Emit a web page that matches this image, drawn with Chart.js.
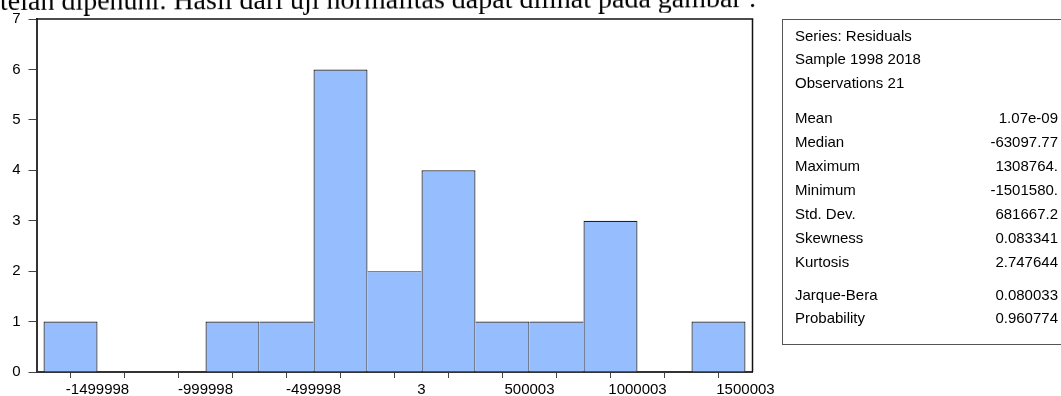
<!DOCTYPE html>
<html>
<head>
<meta charset="utf-8">
<script src="https://cdn.jsdelivr.net/npm/chart.js@4.4.1/dist/chart.umd.min.js"></script>
<style>
  html, body { margin: 0; padding: 0; background: #fff; overflow: hidden; width: 1061px; height: 396px; }
  #stage { position: absolute; left: 0; top: 0; width: 1061px; height: 396px; }
  #hist { position: absolute; left: 0; top: 0; }
  #lead { position: absolute; left: 0; top: -13.4px; white-space: nowrap; color: #000;
          font-family: "Times New Roman", "Liberation Serif", serif; font-size: 28px; line-height: 28px;
          transform: rotate(-0.22deg); transform-origin: 0 100%; }
  #stats { position: absolute; left: 782px; top: 19px; width: 300px; height: 326px; box-sizing: border-box;
           border: 1px solid #555; color: #000; font-family: Arial, "Liberation Sans", sans-serif; font-size: 15px; }
  #stats .row { position: absolute; left: 0; width: 275px; height: 18px; line-height: 18px; white-space: nowrap; }
  #stats .name { position: absolute; left: 12px; }
  #stats .val { position: absolute; right: 0; text-align: right; }
</style>
</head>
<body>
<div id="stage">
  <canvas id="hist" width="1061" height="396"></canvas>
  <div id="lead">telah dipenuhi. Hasil dari uji normalitas dapat dilihat pada gambar :</div>
  <div id="stats"></div>
</div>
<script>
// Histogram of residuals: bin edges, counts per bin, and the labelled edges
const binEdges = [-1749997.5, -1499997.5, -1249997.5, -999997.5, -749997.5, -499997.5, -249997.5,
                  2.5, 250002.5, 500002.5, 750002.5, 1000002.5, 1250002.5, 1500002.5];
const binCounts = [1, 0, 0, 1, 1, 6, 2, 4, 1, 1, 3, 0, 1];
const xTickLabels = ['-1499998', '-999998', '-499998', '3', '500003', '1000003', '1500003'];
const yTicks = [0, 1, 2, 3, 4, 5, 6, 7];

// Descriptive statistics panel
const seriesInfo = ['Series: Residuals', 'Sample 1998 2018', 'Observations 21'];
const statNames = ['Mean', 'Median', 'Maximum', 'Minimum', 'Std. Dev.', 'Skewness', 'Kurtosis'];
const statValues = ['1.07e-09', '-63097.77', '1308764.', '-1501580.', '681667.2', '0.083341', '2.747644'];
const testNames = ['Jarque-Bera', 'Probability'];
const testValues = ['0.080033', '0.960774'];

// statistics panel rows (vertical centres in page pixels)
const rowCentres = [36, 59, 83, 118, 142, 166, 190, 214, 238, 262, 295, 318];
const panel = document.getElementById('stats');
const rows = [];
seriesInfo.forEach(t => rows.push([t, '']));
statNames.forEach((t, i) => rows.push([t, statValues[i]]));
testNames.forEach((t, i) => rows.push([t, testValues[i]]));
rows.forEach((r, i) => {
  const row = document.createElement('div');
  row.className = 'row';
  row.style.top = (rowCentres[i] - 20 - 8.6) + 'px';
  const n = document.createElement('span'); n.className = 'name'; n.textContent = r[0];
  row.appendChild(n);
  if (r[1]) { const v = document.createElement('span'); v.className = 'val'; v.textContent = r[1]; row.appendChild(v); }
  panel.appendChild(row);
});

// frame on the top and right of the plot area
const framePlugin = {
  id: 'frame',
  afterDraw(chart) {
    const a = chart.chartArea, c = chart.ctx;
    c.save();
    c.strokeStyle = '#111';
    c.lineWidth = 1.5;
    c.beginPath(); c.moveTo(a.left, a.top); c.lineTo(a.right + 0.75, a.top); c.stroke();
    c.beginPath(); c.moveTo(a.right, a.top); c.lineTo(a.right, a.bottom); c.stroke();
    c.restore();
  }
};

const last = binCounts.length - 1;

Chart.defaults.font.family = 'Arial, "Liberation Sans", sans-serif';
Chart.defaults.font.size = 15;
Chart.defaults.color = '#000';

new Chart(document.getElementById('hist'), {
  type: 'bar',
  data: {
    datasets: [{
      data: binCounts.map((c, i) => ({ x: (binEdges[i] + binEdges[i + 1]) / 2, y: c })),
      backgroundColor: '#96beff',
      borderColor: '#222',
      borderWidth: ctx => {
        const i = ctx.dataIndex;
        const left = (i === 0 || binCounts[i - 1] < binCounts[i]) ? 1.2 : 0;
        const right = (i === last || binCounts[i + 1] <= binCounts[i]) ? 1.2 : 0;
        return { top: 1.2, left, right, bottom: 0 };
      },
      borderSkipped: 'bottom',
      inflateAmount: 0,
      barPercentage: 1,
      categoryPercentage: 1
    }]
  },
  options: {
    responsive: false,
    animation: false,
    devicePixelRatio: 1,
    layout: { padding: { top: 19, right: 1061 - 752.5, left: 0, bottom: 0 } },
    plugins: { legend: { display: false }, tooltip: { enabled: false } },
    scales: {
      x: {
        type: 'linear',
        offset: false,
        min: binEdges[0] - 32500,
        max: binEdges[binEdges.length - 1] + 32500,
        afterFit: s => { s.height = 24; },
        afterBuildTicks: s => { s.ticks = binEdges.map(v => ({ value: v })); },
        ticks: {
          autoSkip: false, maxRotation: 0, padding: 3,
          callback: (v, i) => (i % 2 === 1 ? xTickLabels[(i - 1) / 2] : '')
        },
        grid: { drawOnChartArea: false, drawTicks: true, tickLength: 6, color: '#444', lineWidth: 1 },
        border: { display: true, color: '#333', width: 2 }
      },
      y: {
        min: 0, max: 7,
        afterFit: s => { s.width = 36.5; },
        afterBuildTicks: s => { s.ticks = yTicks.map(v => ({ value: v })); },
        ticks: { padding: 8, callback: v => String(v) },
        grid: { drawOnChartArea: false, drawTicks: true, tickLength: 8, color: '#444', lineWidth: 1 },
        border: { display: true, color: '#333', width: 2 }
      }
    }
  },
  plugins: [framePlugin]
});
</script>
</body>
</html>
